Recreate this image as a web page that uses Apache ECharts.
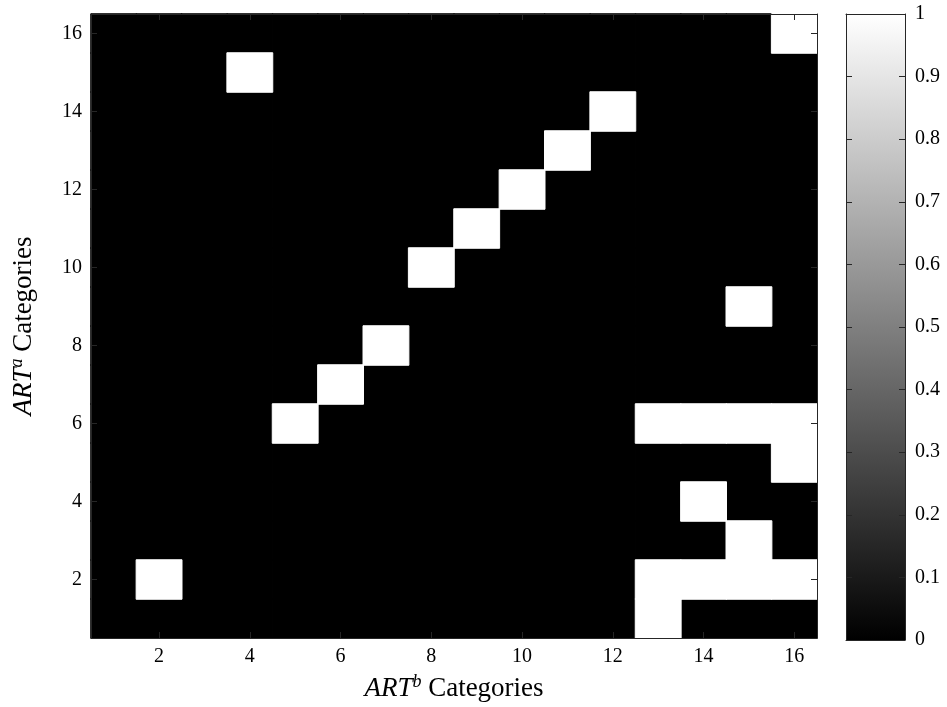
<!DOCTYPE html>
<html>
<head>
<meta charset="utf-8">
<script src="https://cdn.jsdelivr.net/npm/echarts@6/dist/echarts.min.js"></script>
<style>html,body{margin:0;padding:0;background:#fff;}#chart{width:947px;height:707px;}</style>
</head>
<body>
<div id="chart"></div>
<script>
// Category labels (1..16) for both axes
const xCategories = ['1','2','3','4','5','6','7','8','9','10','11','12','13','14','15','16'];
const yCategories = ['1','2','3','4','5','6','7','8','9','10','11','12','13','14','15','16'];
// Cell values, one array per ART^a category (row 1 = bottom), columns = ART^b categories 1..16
const row1  = [0,0,0,0,0,0,0,0,0,0,0,0,1,0,0,0];
const row2  = [0,1,0,0,0,0,0,0,0,0,0,0,1,1,1,1];
const row3  = [0,0,0,0,0,0,0,0,0,0,0,0,0,0,1,0];
const row4  = [0,0,0,0,0,0,0,0,0,0,0,0,0,1,0,0];
const row5  = [0,0,0,0,0,0,0,0,0,0,0,0,0,0,0,1];
const row6  = [0,0,0,0,1,0,0,0,0,0,0,0,1,1,1,1];
const row7  = [0,0,0,0,0,1,0,0,0,0,0,0,0,0,0,0];
const row8  = [0,0,0,0,0,0,1,0,0,0,0,0,0,0,0,0];
const row9  = [0,0,0,0,0,0,0,0,0,0,0,0,0,0,1,0];
const row10 = [0,0,0,0,0,0,0,1,0,0,0,0,0,0,0,0];
const row11 = [0,0,0,0,0,0,0,0,1,0,0,0,0,0,0,0];
const row12 = [0,0,0,0,0,0,0,0,0,1,0,0,0,0,0,0];
const row13 = [0,0,0,0,0,0,0,0,0,0,1,0,0,0,0,0];
const row14 = [0,0,0,0,0,0,0,0,0,0,0,1,0,0,0,0];
const row15 = [0,0,0,1,0,0,0,0,0,0,0,0,0,0,0,0];
const row16 = [0,0,0,0,0,0,0,0,0,0,0,0,0,0,0,1];
const rows = [row1,row2,row3,row4,row5,row6,row7,row8,row9,row10,row11,row12,row13,row14,row15,row16];
// Colorbar range and tick step
const colorbarMin = 0, colorbarMax = 1, colorbarStep = 0.1;

const zeroCells = [], oneCells = [];
rows.forEach((r, yi) => r.forEach((v, xi) => (v >= 0.5 ? oneCells : zeroCells).push([xi, yi, v])));

const FONT = 'Liberation Serif';
const lineColor = '#262626';
const evenOnly = (i) => i % 2 === 1;

function catAxis(grid, pos, labels, isY) {
  return {
    type: 'category', gridIndex: grid, position: pos, data: isY ? yCategories : xCategories,
    boundaryGap: true, z: 10,
    axisLine: { show: true, onZero: false, lineStyle: { color: lineColor, width: 1 } },
    axisTick: { show: true, inside: true, length: 6, alignWithLabel: true, interval: evenOnly, lineStyle: { color: lineColor } },
    axisLabel: { show: labels, interval: evenOnly, fontFamily: FONT, fontSize: 20, color: '#000', margin: 9 },
    splitLine: { show: false }
  };
}

const richName = {
  i: { fontFamily: FONT, fontStyle: 'italic', fontSize: 27, color: '#000' },
  s: { fontFamily: FONT, fontStyle: 'italic', fontSize: 18, color: '#000', padding: [0, 0, 13, 0] },
  n: { fontFamily: FONT, fontSize: 27, color: '#000' }
};

const xBottom = catAxis(0, 'bottom', true, false);
xBottom.name = '{i|ART}{s|b}{n| Categories}';
xBottom.nameLocation = 'middle';
xBottom.nameGap = 35;
xBottom.nameTextStyle = { rich: richName };
const yLeft = catAxis(0, 'left', true, true);
yLeft.name = '{i|ART}{s|a}{n| Categories}';
yLeft.nameLocation = 'middle';
yLeft.nameGap = 52;
yLeft.nameRotate = 90;
yLeft.nameTextStyle = { rich: richName };

const cbTickAxis = (pos, labels) => ({
  type: 'value', gridIndex: 1, position: pos, min: colorbarMin, max: colorbarMax, interval: colorbarStep, z: 10,
  axisLine: { show: true, lineStyle: { color: lineColor, width: 1 } },
  axisTick: { show: true, inside: true, length: 6, lineStyle: { color: lineColor } },
  axisLabel: { show: labels, fontFamily: FONT, fontSize: 20, color: '#000', margin: 10 },
  splitLine: { show: false }
});
const cbCatAxis = (pos) => ({
  type: 'category', gridIndex: 1, position: pos, data: [''], z: 10,
  axisLine: { show: true, onZero: false, lineStyle: { color: lineColor, width: 1 } },
  axisTick: { show: false }, axisLabel: { show: false }
});

const option = {
  animation: false,
  backgroundColor: '#fff',
  grid: [
    { left: 89, right: 130, top: 14, bottom: 67 },
    { left: 846, width: 59, top: 14, height: 626 }
  ],
  xAxis: [ xBottom, catAxis(0, 'top', false, false), cbCatAxis('bottom'), cbCatAxis('top') ],
  yAxis: [ yLeft, catAxis(0, 'right', false, true), cbTickAxis('right', true), cbTickAxis('left', false) ],
  visualMap: {
    show: false, type: 'continuous', min: colorbarMin, max: colorbarMax, seriesIndex: [0, 1],
    inRange: { color: ['#000000', '#ffffff'] }
  },
  series: [
    {
      type: 'heatmap', xAxisIndex: 0, yAxisIndex: 0, data: zeroCells,
      itemStyle: { borderWidth: 1, borderColor: '#000000' }, emphasis: { disabled: true }, silent: true
    },
    {
      type: 'heatmap', xAxisIndex: 0, yAxisIndex: 0, data: oneCells,
      itemStyle: { borderWidth: 1, borderColor: '#ffffff' }, emphasis: { disabled: true }, silent: true
    },
    {
      type: 'bar', xAxisIndex: 2, yAxisIndex: 2, data: [colorbarMax], barWidth: '100%', silent: true,
      itemStyle: {
        color: { type: 'linear', x: 0, y: 0, x2: 0, y2: 1,
          colorStops: [{ offset: 0, color: '#ffffff' }, { offset: 1, color: '#000000' }] }
      }
    }
  ]
};

const chart = echarts.init(document.getElementById('chart'), null, { renderer: 'canvas' });
chart.setOption(option);
</script>
</body>
</html>
